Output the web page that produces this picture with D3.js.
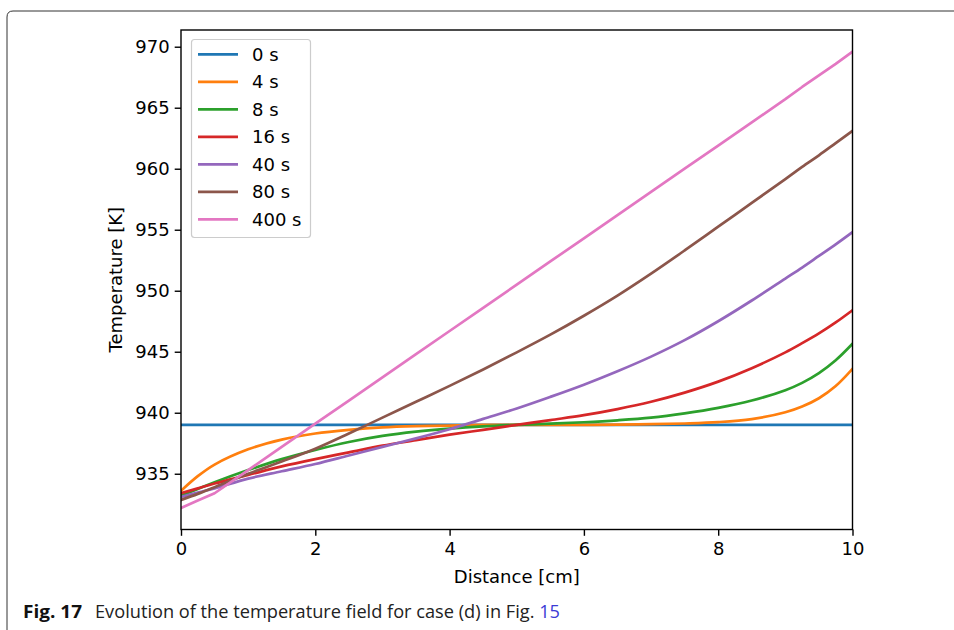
<!DOCTYPE html>
<html>
<head>
<meta charset="utf-8">
<script src="https://cdn.jsdelivr.net/npm/d3@7"></script>
<style>
  html, body { margin: 0; padding: 0; background: #fff; }
  svg { display: block; }
</style>
</head>
<body>
<svg id="fig" width="954" height="630"></svg>
<script>
// Distance along the sample [cm]
const distance = [0, 0.25, 0.5, 1, 1.5, 2, 2.5, 3, 3.5, 4, 4.5, 5, 5.5, 6, 6.5, 7, 7.5, 8, 8.5, 9, 9.25, 9.5, 9.75, 10];

// Temperature profiles [K] at each time
const t0s   = [939, 939, 939, 939, 939, 939, 939, 939, 939, 939, 939, 939, 939, 939, 939, 939, 939, 939, 939, 939, 939, 939, 939, 939];
const t4s   = [933.6, 934.8, 935.75, 937.0, 937.8, 938.3, 938.6, 938.8, 938.9, 938.95, 939.0, 939.0, 939.0, 939.0, 939.02, 939.06, 939.12, 939.23, 939.48, 940.04, 940.51, 941.19, 942.19, 943.6];
const t8s   = [933.2, 933.75, 934.3, 935.3, 936.2, 936.95, 937.6, 938.1, 938.45, 938.7, 938.88, 939.0, 939.1, 939.22, 939.38, 939.6, 939.95, 940.4, 941.0, 941.85, 942.45, 943.25, 944.3, 945.65];
const t16s  = [933.4, 933.8, 934.2, 934.9, 935.6, 936.2, 936.75, 937.3, 937.75, 938.2, 938.6, 939.0, 939.4, 939.8, 940.3, 940.9, 941.65, 942.55, 943.65, 944.95, 945.7, 946.5, 947.4, 948.4];
const t40s  = [933.1, 933.45, 933.8, 934.6, 935.2, 935.8, 936.5, 937.2, 937.9, 938.65, 939.5, 940.35, 941.3, 942.3, 943.4, 944.6, 945.95, 947.5, 949.2, 951.0, 951.9, 952.85, 953.8, 954.8];
const t80s  = [932.85, 933.35, 933.9, 935.0, 936.0, 937.05, 938.3, 939.6, 940.9, 942.2, 943.55, 944.95, 946.4, 947.95, 949.6, 951.4, 953.3, 955.25, 957.2, 959.15, 960.15, 961.1, 962.1, 963.1];
const t400s = [932.2, 932.8, 933.4, 935.3, 937.2, 939.1, 941.0, 942.9, 944.8, 946.7, 948.6, 950.5, 952.4, 954.3, 956.2, 958.1, 960.0, 961.9, 963.8, 965.7, 966.7, 967.65, 968.6, 969.6];

const seriesNames  = ["0 s", "4 s", "8 s", "16 s", "40 s", "80 s", "400 s"];
const seriesValues = [t0s, t4s, t8s, t16s, t40s, t80s, t400s];
const seriesColors = ["#1f77b4", "#ff7f0e", "#2ca02c", "#d62728", "#9467bd", "#8c564b", "#e377c2"];

const xTicks = [0, 2, 4, 6, 8, 10];
const yTicks = [935, 940, 945, 950, 955, 960, 965, 970];

const svg = d3.select("#fig");
const tickFont = "'DejaVu Sans', sans-serif";

// Outer frame of the figure panel
svg.append("path")
  .attr("d", "M7,640 L7,17 Q7,11 13,11 L960,11")
  .attr("fill", "none")
  .attr("stroke", "#333")
  .attr("stroke-width", 1);

const plot = { left: 181, right: 852.5, top: 30, bottom: 529.5 };

const x = d3.scaleLinear().domain([0, 10]).range([plot.left, plot.right]);
const y = d3.scaleLinear().domain([930.43, 971.37]).range([plot.bottom, plot.top]);

// Clip lines to the axes area
svg.append("defs").append("clipPath").attr("id", "clip")
  .append("rect")
  .attr("x", plot.left).attr("y", plot.top)
  .attr("width", plot.right - plot.left).attr("height", plot.bottom - plot.top);

const line = d3.line()
  .x((d, i) => x(distance[i]))
  .y(d => y(d))
  .curve(d3.curveCatmullRom.alpha(0.5));

// The 400 s profile has a kink near the boundary, so it is drawn piecewise-linear
const lineStraight = d3.line()
  .x((d, i) => x(distance[i]))
  .y(d => y(d));

const lines = svg.append("g").attr("clip-path", "url(#clip)");
seriesValues.forEach((vals, k) => {
  lines.append("path")
    .datum(vals)
    .attr("d", k === 6 ? lineStraight : line)
    .attr("fill", "none")
    .attr("stroke", seriesColors[k])
    .attr("stroke-width", 2.7)
    .attr("stroke-linejoin", "round")
    .attr("stroke-linecap", "square");
});

// Axes
const xAxis = d3.axisBottom(x).tickValues(xTicks).tickFormat(d3.format("d"))
  .tickSizeInner(6.3).tickSizeOuter(0).tickPadding(6);
const yAxis = d3.axisLeft(y).tickValues(yTicks).tickFormat(d3.format("d"))
  .tickSizeInner(6.3).tickSizeOuter(0).tickPadding(5);

const gx = svg.append("g").attr("transform", `translate(0,${plot.bottom})`).call(xAxis);
const gy = svg.append("g").attr("transform", `translate(${plot.left},0)`).call(yAxis);
[gx, gy].forEach(g => {
  g.select(".domain").remove();
  g.selectAll(".tick line").attr("stroke", "#000").attr("stroke-width", 1.4);
  g.selectAll(".tick text").attr("fill", "#000")
    .style("font-family", tickFont).style("font-size", "18px");
});

// Spines
svg.append("rect")
  .attr("x", plot.left).attr("y", plot.top)
  .attr("width", plot.right - plot.left).attr("height", plot.bottom - plot.top)
  .attr("fill", "none").attr("stroke", "#000").attr("stroke-width", 1.4);

// Axis titles
svg.append("text")
  .attr("x", (plot.left + plot.right) / 2).attr("y", 583)
  .attr("text-anchor", "middle")
  .style("font-family", tickFont).style("font-size", "18px")
  .text("Distance [cm]");

svg.append("text")
  .attr("transform", `translate(122,${(plot.top + plot.bottom) / 2}) rotate(-90)`)
  .attr("text-anchor", "middle")
  .style("font-family", tickFont).style("font-size", "18px")
  .text("Temperature [K]");

// Legend
const legend = svg.append("g");
legend.append("rect")
  .attr("x", 191.5).attr("y", 39.5).attr("width", 119).attr("height", 198)
  .attr("rx", 3).attr("ry", 3)
  .attr("fill", "#fff").attr("fill-opacity", 0.8)
  .attr("stroke", "#ccc").attr("stroke-width", 1.2);
seriesNames.forEach((name, k) => {
  const yy = 54.3 + k * 27.5;
  legend.append("line")
    .attr("x1", 198).attr("x2", 238).attr("y1", yy).attr("y2", yy)
    .attr("stroke", seriesColors[k]).attr("stroke-width", 2.7);
  legend.append("text")
    .attr("x", 252).attr("y", yy + 6.5)
    .style("font-family", tickFont).style("font-size", "18px")
    .text(name);
});

// Caption
const capFont = "'Open Sans', 'Noto Sans', sans-serif";
svg.append("text")
  .attr("x", 23).attr("y", 618)
  .attr("textLength", 59).attr("lengthAdjust", "spacingAndGlyphs")
  .style("font-family", capFont).style("font-size", "18px").style("font-weight", "bold")
  .attr("fill", "#111")
  .text("Fig. 17");
const cap = svg.append("text")
  .attr("x", 95).attr("y", 618)
  .attr("textLength", 465).attr("lengthAdjust", "spacingAndGlyphs")
  .style("font-family", capFont).style("font-size", "18px")
  .attr("fill", "#222");
cap.append("tspan").text("Evolution of the temperature field for case (d) in Fig. ");
cap.append("tspan").attr("fill", "#3b3bd6").text("15");
</script>
</body>
</html>
